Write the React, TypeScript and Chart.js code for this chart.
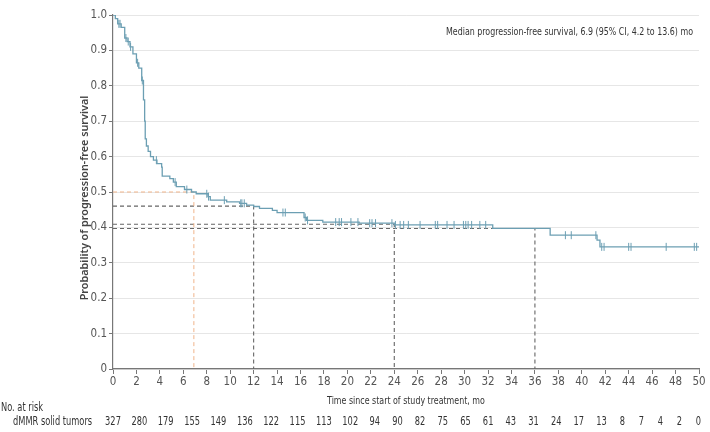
import React, { useEffect, useRef } from "react";
import { Chart, registerables } from "chart.js";

Chart.register(...registerables);

// Kaplan-Meier step curve: event times (months) and survival after each step
const STEP_TIMES = [
  0, 0.2, 0.4, 0.7, 1.0, 1.2, 1.45, 1.7, 2.0, 2.2, 2.45, 2.6, 2.7, 2.75, 2.85,
  3.0, 3.2, 3.45, 3.75, 4.15, 4.2, 4.85, 5.15, 5.4, 6.1, 6.7, 7.1, 8.1, 8.3,
  9.7, 10.8, 11.4, 12.0, 12.5, 13.6, 14.0, 16.3, 16.5, 17.9, 21.0, 24.0, 32.4,
  37.3, 41.3, 41.55, 50,
];
const STEP_SURVIVAL = [
  1.0, 0.99, 0.975, 0.965, 0.935, 0.925, 0.91, 0.89, 0.865, 0.85, 0.815, 0.76,
  0.7, 0.65, 0.63, 0.615, 0.6, 0.59, 0.58, 0.57, 0.545, 0.538, 0.528, 0.515,
  0.507, 0.5, 0.495, 0.487, 0.477, 0.472, 0.468, 0.463, 0.459, 0.454, 0.448,
  0.442, 0.428, 0.42, 0.415, 0.412, 0.407, 0.397, 0.378, 0.364, 0.345, 0.345,
];

// Censored observations (months)
const CENSOR_TIMES = [
  0.5, 0.6, 1.1, 1.3, 1.5, 2.1, 2.5, 3.7, 5.3, 6.3, 8.0, 8.15, 9.5, 10.9, 11.0,
  11.2, 14.5, 14.7, 16.4, 16.6, 19.0, 19.3, 19.5, 20.3, 20.9, 21.9, 22.1, 22.4,
  23.8, 24.1, 24.5, 24.8, 25.2, 26.2, 27.5, 27.7, 28.5, 29.1, 29.9, 30.1, 30.3,
  30.6, 31.3, 31.8, 38.6, 39.1, 41.2, 41.7, 41.9, 44.0, 44.2, 47.2, 49.6, 49.8,
];

// Median and landmark reference lines
const MEDIAN_TIME = 6.9;
const MEDIAN_LEVEL = 0.5;
const LANDMARK_TIMES = [12, 24, 36];
const LANDMARK_LEVELS = [0.46, 0.409, 0.397];

// Number at risk every 2 months, from 0 to 50
const RISK_STEP = 2;
const RISK_COUNTS = [
  327, 280, 179, 155, 149, 136, 122, 115, 113, 102, 94, 90, 82, 75, 65, 61, 43,
  31, 24, 17, 13, 8, 7, 4, 2, 0,
];

const MEDIAN_LABEL = "Median progression-free survival, 6.9 (95% CI, 4.2 to 13.6) mo";
const X_TITLE = "Time since start of study treatment, mo";
const Y_TITLE = "Probability of progression-free survival";
const RISK_HEADER = "No. at risk";
const RISK_GROUP = "dMMR solid tumors";

const NARROW = "'Liberation Sans Narrow', 'DejaVu Sans Condensed', sans-serif";
const CURVE_COLOR = "#6c9fb3";
const SQUEEZE = 0.8;

function survivalAt(t: number): number {
  let s = STEP_SURVIVAL[0];
  for (let i = 0; i < STEP_TIMES.length; i++) {
    if (STEP_TIMES[i] <= t) s = STEP_SURVIVAL[i];
  }
  return s;
}

// draws horizontally condensed text
function narrowText(ctx: any, text: string, x: number, y: number, align: string) {
  const w = ctx.measureText(text).width * SQUEEZE;
  const left = align === "right" ? x - w : align === "center" ? x - w / 2 : x;
  ctx.save();
  ctx.textAlign = "left";
  ctx.translate(left, y);
  ctx.scale(SQUEEZE, 1);
  ctx.fillText(text, 0, 0);
  ctx.restore();
}

const textPlugin = {
  id: "kmText",
  afterDraw(chart: any) {
    const { ctx, chartArea, scales } = chart;
    const x = scales.x;
    ctx.save();
    ctx.textBaseline = "middle";

    // median summary
    ctx.font = `11px ${NARROW}`;
    ctx.fillStyle = "#333";
    narrowText(ctx, MEDIAN_LABEL, chartArea.right - 6, 32, "right");

    // x axis title
    ctx.font = `11px ${NARROW}`;
    narrowText(ctx, X_TITLE, (chartArea.left + chartArea.right) / 2, 401, "center");

    // y axis title
    ctx.save();
    ctx.translate(85, (chartArea.top + chartArea.bottom) / 2 + 6);
    ctx.rotate(-Math.PI / 2);
    ctx.font = `600 10.8px 'Noto Sans', 'DejaVu Sans', sans-serif`;
    ctx.fillStyle = "#444";
    ctx.textAlign = "center";
    ctx.fillText(Y_TITLE, 0, 0);
    ctx.restore();

    // number-at-risk table: counts flow between the first and last tick,
    // partly evenly gapped, partly pinned to their time tick
    ctx.font = `11.5px ${NARROW}`;
    ctx.fillStyle = "#333";
    narrowText(ctx, RISK_HEADER, 1, 408, "left");
    narrowText(ctx, RISK_GROUP, 13, 422, "left");
    const labels = RISK_COUNTS.map(String);
    const widths = labels.map((s) => ctx.measureText(s).width * SQUEEZE);
    const n = labels.length;
    const x0 = x.getPixelForValue(0);
    const x1 = x.getPixelForValue((n - 1) * RISK_STEP) - 1;
    let inner = 0;
    for (let i = 1; i < n; i++) inner += (widths[i - 1] + widths[i]) / 2;
    const gap = (x1 - x0 - inner) / (n - 1);
    let flow = x0;
    labels.forEach((s, i) => {
      if (i > 0) flow += (widths[i - 1] + widths[i]) / 2 + gap;
      const tick = x.getPixelForValue(i * RISK_STEP);
      narrowText(ctx, s, 0.7 * flow + 0.3 * tick, 422, "center");
    });
    ctx.restore();
  },
};

export default function App() {
  const ref = useRef<HTMLCanvasElement | null>(null);

  useEffect(() => {
    if (!ref.current) return;
    const curve = STEP_TIMES.map((t, i) => ({ x: t, y: STEP_SURVIVAL[i] }));
    const censors = CENSOR_TIMES.map((t) => ({ x: t, y: survivalAt(t) }));
    const median = [
      { x: 0, y: MEDIAN_LEVEL },
      { x: MEDIAN_TIME, y: MEDIAN_LEVEL },
      { x: MEDIAN_TIME, y: 0 },
    ];
    const landmarks = LANDMARK_TIMES.map((t, i) => [
      { x: 0, y: LANDMARK_LEVELS[i] },
      { x: t, y: LANDMARK_LEVELS[i] },
      { x: t, y: 0 },
    ]);

    const chart = new Chart(ref.current, {
      type: "line",
      data: {
        datasets: [
          {
            label: "PFS",
            data: curve,
            stepped: "before",
            borderColor: CURVE_COLOR,
            borderWidth: 1.3,
            pointRadius: 0,
            fill: false,
          },
          {
            label: "Censored",
            data: censors,
            showLine: false,
            pointStyle: "line",
            rotation: 90,
            pointRadius: 4,
            borderColor: CURVE_COLOR,
            pointBorderColor: CURVE_COLOR,
            pointBorderWidth: 1,
          },
          {
            label: "Median",
            data: median,
            borderColor: "#f0b48a",
            borderWidth: 1,
            borderDash: [4, 3],
            pointRadius: 0,
          },
          ...landmarks.map((d, i) => ({
            label: `Landmark ${LANDMARK_TIMES[i]}`,
            data: d,
            borderColor: "#666",
            borderWidth: 1.1,
            borderDash: [4, 3],
            pointRadius: 0,
          })),
        ] as any,
      },
      options: {
        animation: false,
        responsive: false,
        devicePixelRatio: 1,
        layout: { padding: { left: 0, right: 11, top: 15, bottom: 0 } },
        plugins: {
          legend: { display: false },
          tooltip: { enabled: false },
        },
        scales: {
          x: {
            type: "linear",
            min: 0,
            max: 50,
            afterFit: (s: any) => {
              s.height = 63;
            },
            ticks: {
              stepSize: 2,
              autoSkip: false,
              maxRotation: 0,
              padding: 1,
              color: "#555",
              font: { family: NARROW, size: 11.5 },
            },
            grid: {
              drawOnChartArea: false,
              tickLength: 5,
              tickColor: "#777",
            },
            border: { color: "#777", width: 1.2 },
          },
          y: {
            type: "linear",
            min: 0,
            max: 1,
            afterFit: (s: any) => {
              s.width = 113;
            },
            ticks: {
              stepSize: 0.1,
              padding: 2,
              color: "#555",
              font: { family: NARROW, size: 11.5 },
              callback: (v: any) => (v === 0 ? "0" : Number(v).toFixed(1)),
            },
            grid: {
              color: "#e6e6e6",
              tickColor: "#777",
              tickLength: 4,
            },
            border: { color: "#777", width: 1.2 },
          },
        },
      } as any,
      plugins: [textPlugin],
    });
    return () => chart.destroy();
  }, []);

  return (
    <div style={{ position: "fixed", left: 0, top: 0, width: 710, height: 432, background: "#fff" }}>
      <canvas ref={ref} width={710} height={432} style={{ width: 710, height: 432 }} />
    </div>
  );
}
